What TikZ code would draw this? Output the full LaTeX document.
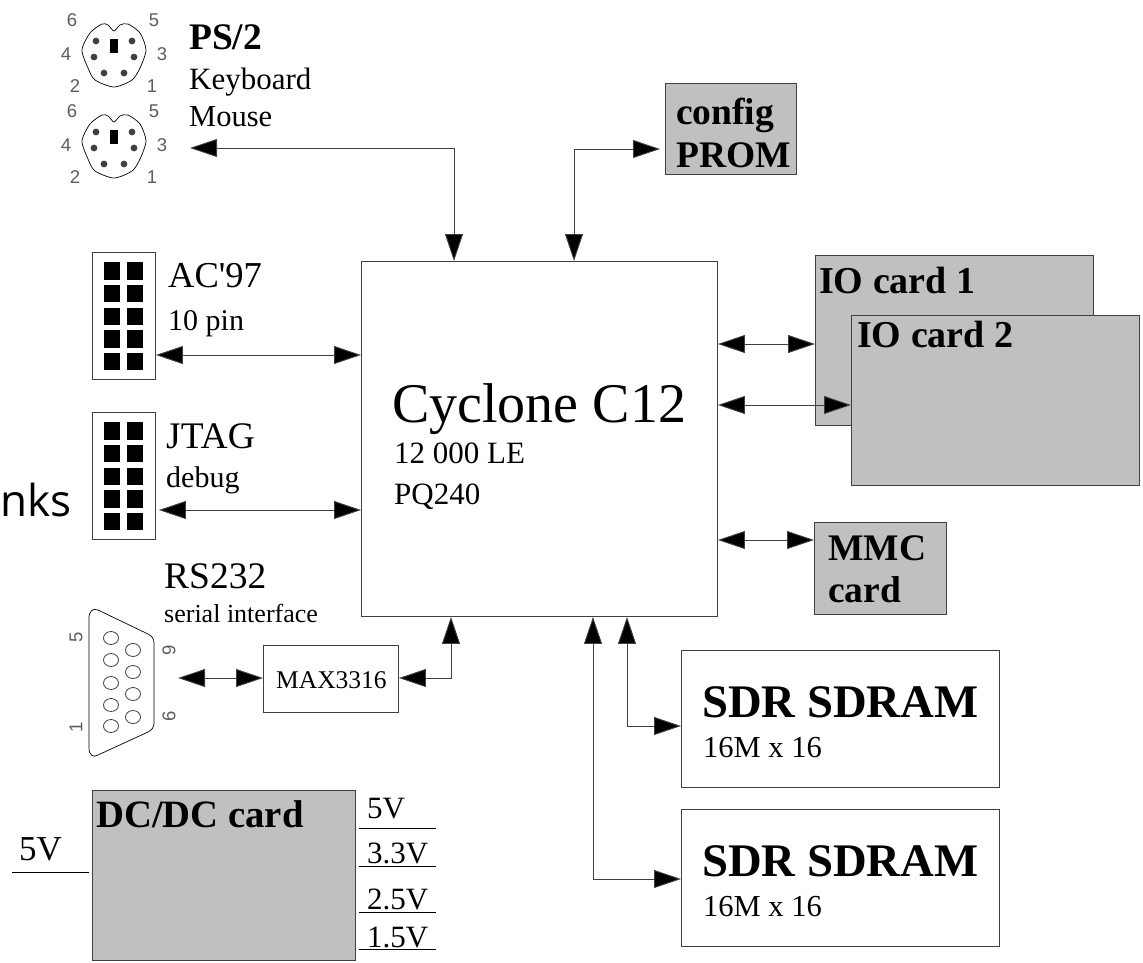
\documentclass[tikz,border=0pt]{standalone}
\usepackage{fontspec}
\setmainfont{Liberation Serif}
\newfontfamily\pinfont{Liberation Sans}
\newfontfamily\cutfont{Open Sans}
\usetikzlibrary{arrows.meta}
\newcommand{\fsz}[1]{\fontsize{#1}{#1}\selectfont}
\definecolor{linegray}{HTML}{404040}
\definecolor{cardgray}{HTML}{C0C0C0}
\tikzset{
  box/.style={draw=linegray,line width=0.9pt,fill=white,inner sep=0pt,anchor=north west},
  card/.style={box,fill=cardgray},
  bi/.style={draw=linegray,line width=0.9pt,{Triangle[length=27pt,width=18pt,fill=black]}-{Triangle[length=27pt,width=18pt,fill=black]}},
  rule/.style={draw=black,line width=0.8pt},
  txt/.style={inner sep=0pt,anchor=base west,text=black},
  pin/.style={inner sep=0pt,anchor=center,text=linegray!85,font=\pinfont\fsz{18.5}},
  pad/.style={fill=black,draw=none,inner sep=0pt,minimum width=15.5pt,minimum height=17.5pt,anchor=north west},
  outline/.style={draw=black,line width=0.7pt,fill=white}
}
\newcommand{\ptbox}[5]{\node[#1,minimum width=#4pt,minimum height=#5pt] (#2) at (#3) {};}
\newcommand{\hdrpads}[2]{%
  \foreach \r in {0,...,4}{
    \node[pad] (#1a\r) at (104,{#2+\r*22.67}) {};
    \node[pad] (#1b\r) at (127,{#2+\r*22.67}) {};
  }}
\newcommand{\psconn}[2]{%
  \begin{scope}[shift={(0,#1)}]
    \draw[outline] plot[smooth cycle,tension=.45] coordinates {(102,24)(108,25)(114,31)(120,25)(128,24)(140,33)(146,50)(140,68)(132,80)(114,87)(95,80)(88,68)(82,50)(90,33)};
    \foreach \px/\py in {96/41,132/41,94/57,134/57,104/73,124/73}{
      \fill[linegray] (\px,\py) circle[radius=3.4pt];
    }
    \fill[black] (110,39) rectangle (118,53);
    \node[pin] (p#2six) at (72,20) {6};
    \node[pin] (p#2five) at (154,20) {5};
    \node[pin] (p#2four) at (66,54) {4};
    \node[pin] (p#2three) at (162,54) {3};
    \node[pin] (p#2two) at (75,86) {2};
    \node[pin] (p#2one) at (152,86) {1};
  \end{scope}}
\begin{document}
\begin{tikzpicture}[x=1pt,y=-1pt]
\useasboundingbox (0,0) rectangle (1143,962);
% PS/2
\psconn{0}{a}
\psconn{91}{b}
\node[txt,font=\bfseries\fsz{37.5}] (ps) at (189,49) {PS/2};
\node[txt,font=\fsz{31}] (kbd) at (189,89) {Keyboard};
\node[txt,font=\fsz{30.5}] (mouse) at (189,126) {Mouse};
\coordinate (psend) at (190,148);
% FPGA
\ptbox{box}{fpga}{361,261}{356}{355}
\node[txt,font=\fsz{56}] (cyc) at (392,422) {Cyclone C12};
\node[txt,font=\fsz{31}] (le) at (394,463) {12 000 LE};
\node[txt,font=\fsz{31}] (pq) at (394,504) {PQ240};
% PROM
\ptbox{card}{prom}{665,83}{131}{91}
\node[txt,font=\bfseries\fsz{37.5}] (cfg) at (676,124) {config};
\node[txt,font=\bfseries\fsz{37.5}] (prm) at (676,167) {PROM};
% IO cards
\ptbox{card}{ioa}{815,255}{278}{170}
\node[txt,font=\bfseries\fsz{38}] (ioat) at (819,293) {IO card 1};
\ptbox{card}{iob}{851,315}{288}{170}
\node[txt,font=\bfseries\fsz{38}] (iobt) at (857,347) {IO card 2};
% MMC
\ptbox{card}{mmc}{814,522}{132}{92}
\node[txt,font=\bfseries\fsz{37.5}] (mmca) at (828,560) {MMC};
\node[txt,font=\bfseries\fsz{37.5}] (mmcb) at (828,602) {card};
% SDRAM
\ptbox{box}{sda}{681,650}{318}{137}
\node[txt,font=\bfseries\fsz{46.7}] (sdat) at (702,717) {SDR SDRAM};
\node[txt,font=\fsz{30.5}] (sdas) at (703,757) {16M x 16};
\ptbox{box}{sdb}{681,809}{318}{137}
\node[txt,font=\bfseries\fsz{46.7}] (sdbt) at (702,876) {SDR SDRAM};
\node[txt,font=\fsz{30.5}] (sdbs) at (703,916) {16M x 16};
% headers
\ptbox{box}{ac}{92,252}{63}{127}
\hdrpads{ac}{262}
\node[txt,font=\fsz{36.5}] (act) at (168,287) {AC\textquotesingle 97};
\node[txt,font=\fsz{30}] (acs) at (168,330) {10 pin};
\ptbox{box}{jt}{92,412}{63}{127}
\hdrpads{jt}{422}
\node[txt,font=\fsz{37.5}] (jtt) at (166,448) {JTAG};
\node[txt,font=\fsz{30}] (jts) at (166,487) {debug};
\node[txt,font=\cutfont\fsz{44}] (cut) at (0,516) {nks};
% RS232
\node[txt,font=\fsz{37.5}] (rs) at (164,588) {RS232};
\node[txt,font=\fsz{26}] (rss) at (164,622) {serial interface};
\draw[outline] (89,618) .. controls (89,611) and (93,608) .. (98,610)
  -- (148,634) .. controls (152,636) and (154,639) .. (154,643)
  -- (154,723) .. controls (154,727) and (152,730) .. (148,732)
  -- (98,755) .. controls (93,758) and (89,755) .. (89,748) -- cycle;
\foreach \py in {638,660,683,705,726}{\draw[line width=0.8pt,draw=linegray] (111,\py) ellipse[x radius=7.5pt,y radius=6.5pt];}
\foreach \py in {650,672,694,717}{\draw[line width=0.8pt,draw=linegray] (133,\py) ellipse[x radius=7.5pt,y radius=6.5pt];}
\node[pin,rotate=90] (dfive) at (76,637) {5};
\node[pin,rotate=90] (done) at (76,727) {1};
\node[pin,rotate=90] (dnine) at (169,650) {9};
\node[pin,rotate=90] (dsix) at (169,716) {6};
\coordinate (dbend) at (178,678);
\ptbox{box}{max}{263,645}{135}{67}
\node[txt,font=\fsz{25.5}] (maxt) at (276,688) {MAX3316};
% DC/DC
\ptbox{card}{dc}{92,790}{263}{170}
\node[txt,font=\bfseries\fsz{38.7}] (dct) at (96,827) {DC/DC card};
\node[txt,font=\fsz{35}] (vin) at (19,860) {5V};
\coordinate (vina) at (12,872);
\coordinate (vinb) at (89,872);
\draw[rule] (vina) -- (vinb);
\foreach \nm/\lbl/\bl/\ly in {va/5V/818/828,vb/3.3V/863/866,vc/2.5V/909/912,vd/1.5V/947/949}{
  \node[txt,font=\fsz{31}] (\nm) at (367,\bl) {\lbl};
  \coordinate (\nm l) at (359,\ly);
  \coordinate (\nm r) at (436,\ly);
  \draw[rule] (\nm l) -- (\nm r);
}
% connectors
\draw[bi] (psend) -| (fpga.north -| 454,0);
\draw[bi,shorten >=5pt] (fpga.north -| 574,0) |- (prom.west |- 0,149);
\draw[bi] (ac.east |- 0,355) -- (fpga.west |- 0,355);
\draw[bi] (jt.east |- 0,510) ++(3,0) -- (fpga.west |- 0,510);
\draw[bi] (fpga.east |- 0,344) -- (ioa.west |- 0,344);
\draw[bi] (fpga.east |- 0,405) -- (iob.west |- 0,405);
\draw[bi] (fpga.east |- 0,540) -- (mmc.west |- 0,540);
\draw[bi] (dbend) -- (max.west |- dbend);
\draw[bi] (max.east |- dbend) -| (fpga.south -| 451,0);
\draw[bi] (fpga.south -| 627,0) |- (sda.west |- 0,726);
\draw[bi] (fpga.south -| 593,0) |- (sdb.west |- 0,879);
\end{tikzpicture}
\end{document}
